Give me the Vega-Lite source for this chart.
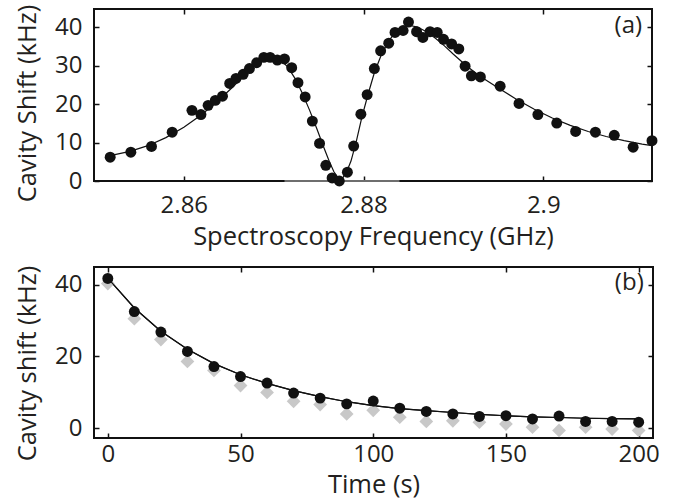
{
  "$schema": "https://vega.github.io/schema/vega-lite/v6.json",
  "padding": {"left": 14, "top": 3, "right": 5, "bottom": 5},
  "background": "white",
  "config": {
    "view": {"stroke": "#111", "strokeWidth": 2},
    "font": "Open Sans",
    "axis": {
      "labelFont": "Open Sans", "titleFont": "Open Sans",
      "labelFontSize": 24, "titleFontSize": 25.5,
      "labelColor": "#231f20", "titleColor": "#231f20",
      "titleFontWeight": "normal",
      "tickColor": "#111", "tickSize": -5, "tickWidth": 1.5,
      "domain": false, "grid": false
    }
  },
  "datasets": {
    "ptsA": [
      {"f":2.8518,"s":6.2},{"f":2.8541,"s":7.5},{"f":2.8564,"s":9.0},{"f":2.8587,"s":12.7},
      {"f":2.8609,"s":18.4},{"f":2.8619,"s":17.3},{"f":2.8627,"s":19.7},{"f":2.8635,"s":21.0},
      {"f":2.8643,"s":22.1},{"f":2.8651,"s":25.4},{"f":2.8658,"s":26.7},{"f":2.8666,"s":27.8},
      {"f":2.8673,"s":29.3},{"f":2.8681,"s":30.8},{"f":2.8689,"s":32.2},{"f":2.8696,"s":32.2},
      {"f":2.8704,"s":31.5},{"f":2.8712,"s":31.8},{"f":2.872,"s":29.5},{"f":2.8727,"s":25.6},
      {"f":2.8735,"s":21.9},{"f":2.8743,"s":15.6},{"f":2.8751,"s":9.8},{"f":2.8758,"s":4.1},
      {"f":2.8765,"s":0.8},{"f":2.8773,"s":0.0},{"f":2.8782,"s":2.3},{"f":2.8789,"s":9.1},
      {"f":2.8797,"s":17.4},{"f":2.8804,"s":22.5},{"f":2.8812,"s":29.3},{"f":2.8819,"s":33.9},
      {"f":2.8828,"s":35.9},{"f":2.8835,"s":38.7},{"f":2.8844,"s":39.2},{"f":2.885,"s":41.4},
      {"f":2.8859,"s":38.9},{"f":2.8866,"s":37.4},{"f":2.8874,"s":38.9},{"f":2.8882,"s":38.7},
      {"f":2.8889,"s":36.9},{"f":2.8898,"s":35.7},{"f":2.8906,"s":34.4},{"f":2.8913,"s":29.9},
      {"f":2.892,"s":27.4},{"f":2.893,"s":27.1},{"f":2.8952,"s":24.7},{"f":2.8973,"s":20.2},
      {"f":2.8994,"s":17.3},{"f":2.9015,"s":15.1},{"f":2.9036,"s":12.9},{"f":2.9058,"s":12.7},
      {"f":2.9079,"s":11.9},{"f":2.91,"s":8.8},{"f":2.9121,"s":10.5}
    ],
    "fitA": [
      {"f":2.8518,"s":6.6},{"f":2.854,"s":7.7},{"f":2.856,"s":9.2},{"f":2.858,"s":11.3},
      {"f":2.86,"s":14.0},{"f":2.862,"s":17.3},{"f":2.864,"s":21.3},{"f":2.8655,"s":24.6},
      {"f":2.867,"s":28.2},{"f":2.8682,"s":30.8},{"f":2.8692,"s":32.1},{"f":2.87,"s":32.3},
      {"f":2.8708,"s":31.5},{"f":2.8716,"s":29.6},{"f":2.8724,"s":26.6},{"f":2.8732,"s":22.8},
      {"f":2.874,"s":18.4},{"f":2.8748,"s":13.6},{"f":2.8756,"s":8.6},{"f":2.8762,"s":5.0},
      {"f":2.8767,"s":2.4},{"f":2.8771,"s":1.0},{"f":2.8774,"s":0.6},{"f":2.8777,"s":0.9},
      {"f":2.8781,"s":2.3},{"f":2.8786,"s":5.2},{"f":2.8792,"s":10.4},{"f":2.8798,"s":16.5},
      {"f":2.8805,"s":22.6},{"f":2.8812,"s":28.2},{"f":2.882,"s":33.0},{"f":2.8828,"s":36.5},
      {"f":2.8836,"s":38.9},{"f":2.8844,"s":40.1},{"f":2.8852,"s":40.5},{"f":2.886,"s":40.1},
      {"f":2.887,"s":38.9},{"f":2.888,"s":37.2},{"f":2.889,"s":35.2},{"f":2.89,"s":33.0},
      {"f":2.8915,"s":29.9},{"f":2.893,"s":27.2},{"f":2.895,"s":24.2},{"f":2.897,"s":21.3},
      {"f":2.899,"s":18.7},{"f":2.901,"s":16.4},{"f":2.903,"s":14.5},{"f":2.905,"s":12.9},
      {"f":2.907,"s":11.6},{"f":2.909,"s":10.5},{"f":2.911,"s":9.6},{"f":2.9121,"s":9.2}
    ],
    "grayA": [{"f":2.8712,"s":0},{"f":2.884,"s":0}],
    "labA": [{"f":2.911,"s":40.5,"t":"(a)"}],
    "ptsB": [
      {"t":0,"v":41.7},{"t":10,"v":32.5},{"t":20,"v":26.8},{"t":30,"v":21.4},{"t":40,"v":17.2},
      {"t":50,"v":14.4},{"t":60,"v":12.6},{"t":70,"v":9.8},{"t":80,"v":8.4},{"t":90,"v":6.8},
      {"t":100,"v":7.6},{"t":110,"v":5.6},{"t":120,"v":4.7},{"t":130,"v":4.0},{"t":140,"v":3.3},
      {"t":150,"v":3.5},{"t":160,"v":2.6},{"t":170,"v":3.4},{"t":180,"v":1.9},{"t":190,"v":1.9},
      {"t":200,"v":1.7}
    ],
    "grayB": [
      {"t":0,"v":40.3},{"t":10,"v":30.5},{"t":20,"v":24.7},{"t":30,"v":18.6},{"t":40,"v":16.1},
      {"t":50,"v":11.9},{"t":60,"v":10.0},{"t":70,"v":7.5},{"t":80,"v":6.6},{"t":90,"v":4.0},
      {"t":100,"v":5.0},{"t":110,"v":3.1},{"t":120,"v":1.9},{"t":130,"v":2.1},{"t":140,"v":1.7},
      {"t":150,"v":1.2},{"t":160,"v":0.3},{"t":170,"v":-0.6},{"t":180,"v":0.3},{"t":190,"v":-0.2},
      {"t":200,"v":-0.6}
    ],
    "fitB": [
      {"t":0,"v":41.8},{"t":10,"v":33.5},{"t":20,"v":27.0},{"t":30,"v":22.0},{"t":40,"v":18.0},
      {"t":50,"v":14.9},{"t":60,"v":12.5},{"t":70,"v":10.5},{"t":80,"v":8.8},{"t":90,"v":7.4},
      {"t":100,"v":6.3},{"t":110,"v":5.5},{"t":120,"v":4.9},{"t":130,"v":4.4},{"t":140,"v":3.9},
      {"t":150,"v":3.5},{"t":160,"v":3.2},{"t":170,"v":3.0},{"t":180,"v":2.8},{"t":190,"v":2.7},
      {"t":200,"v":2.6}
    ],
    "labB": [{"t":201.9,"v":40.5,"l":"(b)"}]
  },
  "vconcat": [
    {
      "width": 558, "height": 172,
      "resolve": {"axis": {"x": "independent", "y": "independent"}},
      "layer": [
        {
          "data": {"name": "fitA"},
          "mark": {"type": "line", "color": "#111", "strokeWidth": 1.2},
          "encoding": {
            "x": {"field": "f", "type": "quantitative", "scale": {"domain": [2.85, 2.9121], "nice": false, "zero": false},
                  "axis": {"orient": "bottom", "title": "Spectroscopy Frequency (GHz)", "values": [2.86, 2.88, 2.9], "format": ".2~f", "labelPadding": 17, "titlePadding": 7}},
            "y": {"field": "s", "type": "quantitative", "scale": {"domain": [0, 44.8], "nice": false, "zero": false},
                  "axis": {"orient": "left", "title": "Cavity Shift (kHz)", "values": [0, 10, 20, 30, 40], "labelPadding": 17, "titlePadding": 14, "titleY": 94}}
          }
        },
        {
          "data": {"name": "grayA"},
          "mark": {"type": "line", "color": "#6e6e6e", "strokeWidth": 2},
          "encoding": {
            "x": {"field": "f", "type": "quantitative", "axis": null},
            "y": {"field": "s", "type": "quantitative", "axis": null}
          }
        },
        {
          "data": {"name": "ptsA"},
          "mark": {"type": "circle", "color": "#111", "opacity": 1, "size": 120},
          "encoding": {
            "x": {"field": "f", "type": "quantitative", "axis": null},
            "y": {"field": "s", "type": "quantitative", "axis": null}
          }
        },
        {
          "data": {"name": "labA"},
          "mark": {"type": "text", "align": "right", "baseline": "middle", "fontSize": 24, "font": "Open Sans", "color": "#231f20"},
          "encoding": {
            "x": {"field": "f", "type": "quantitative", "axis": {"orient": "top", "labels": false, "title": null, "values": [2.86, 2.88, 2.9]}},
            "y": {"field": "s", "type": "quantitative", "axis": {"orient": "right", "labels": false, "title": null, "values": [0, 10, 20, 30, 40]}},
            "text": {"field": "t"}
          }
        }
      ]
    },
    {
      "width": 559, "height": 171,
      "resolve": {"axis": {"x": "independent", "y": "independent"}},
      "layer": [
        {
          "data": {"name": "fitB"},
          "mark": {"type": "line", "color": "#111", "strokeWidth": 1.2},
          "encoding": {
            "x": {"field": "t", "type": "quantitative", "scale": {"domain": [-5.2, 205.4], "nice": false, "zero": false},
                  "axis": {"orient": "bottom", "title": "Time (s)", "values": [0, 50, 100, 150, 200], "labelPadding": 9, "titlePadding": 6}},
            "y": {"field": "v", "type": "quantitative", "scale": {"domain": [-2.7, 44.9], "nice": false, "zero": false},
                  "axis": {"orient": "left", "title": "Cavity shift (kHz)", "values": [0, 20, 40], "labelPadding": 17, "titlePadding": 14, "titleY": 96}}
          }
        },
        {
          "data": {"name": "grayB"},
          "mark": {"type": "point", "shape": "diamond", "filled": true, "color": "#c8c8c8", "opacity": 1, "size": 190},
          "encoding": {
            "x": {"field": "t", "type": "quantitative", "axis": null},
            "y": {"field": "v", "type": "quantitative", "axis": null}
          }
        },
        {
          "data": {"name": "fitB"},
          "mark": {"type": "line", "color": "#111", "strokeWidth": 1.2},
          "encoding": {
            "x": {"field": "t", "type": "quantitative", "axis": null},
            "y": {"field": "v", "type": "quantitative", "axis": null}
          }
        },
        {
          "data": {"name": "ptsB"},
          "mark": {"type": "circle", "color": "#111", "opacity": 1, "size": 120},
          "encoding": {
            "x": {"field": "t", "type": "quantitative", "axis": null},
            "y": {"field": "v", "type": "quantitative", "axis": null}
          }
        },
        {
          "data": {"name": "labB"},
          "mark": {"type": "text", "align": "right", "baseline": "middle", "fontSize": 24, "font": "Open Sans", "color": "#231f20"},
          "encoding": {
            "x": {"field": "t", "type": "quantitative", "axis": {"orient": "top", "labels": false, "title": null, "values": [0, 50, 100, 150, 200]}},
            "y": {"field": "v", "type": "quantitative", "axis": {"orient": "right", "labels": false, "title": null, "values": [0, 20, 40]}},
            "text": {"field": "l"}
          }
        }
      ]
    }
  ],
  "spacing": 86,
  "bounds": "flush"
}
